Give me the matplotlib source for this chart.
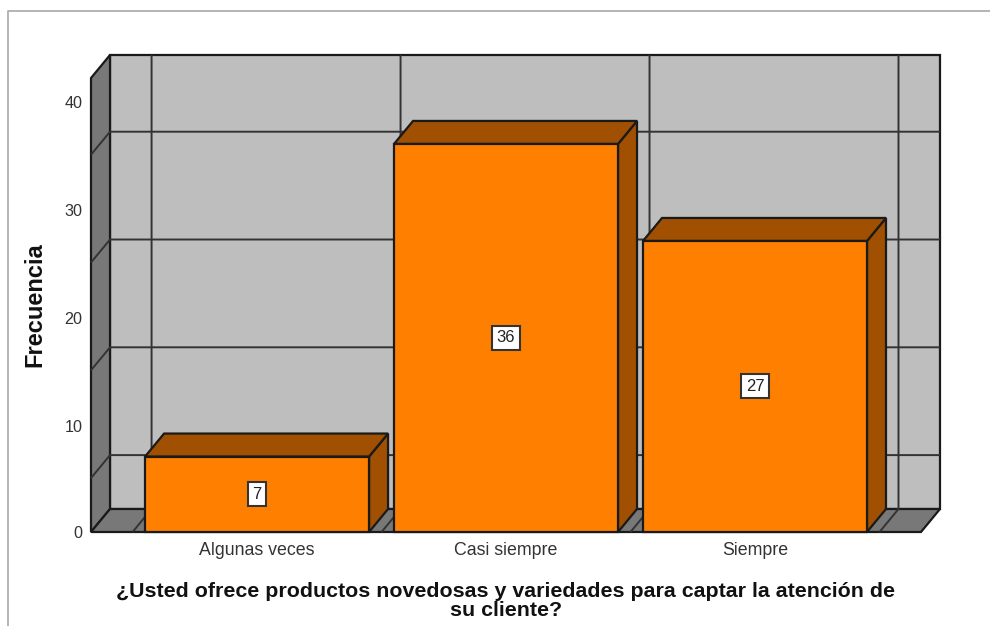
import matplotlib
matplotlib.use('Agg')
import matplotlib.pyplot as plt
from matplotlib.patches import Polygon
from matplotlib.transforms import ScaledTranslation

categories = ['Algunas veces', 'Casi siempre', 'Siempre']
values = [7, 36, 27]
y_ticks = [0, 10, 20, 30, 40]
grid_y = [5, 15, 25, 35]
grid_x = [-0.5, 0.5, 1.5, 2.5]

x_title = '¿Usted ofrece productos novedosas y variedades para captar la atención de\nsu cliente?'
y_title = 'Frecuencia'

ORANGE = '#FF8000'
DARK_ORANGE = '#A05000'
WALL = '#BEBEBE'
SIDE = '#787878'
EDGE = '#1a1a1a'

W, H = 990, 626
plt.rcParams['font.family'] = ['Liberation Sans', 'DejaVu Sans']

fig = plt.figure(figsize=(W / 100, H / 100), dpi=100)
fig.add_artist(plt.Line2D([8 / W, 8 / W, 1], [0, 1 - 11 / H, 1 - 11 / H], color='#a8a8a8', lw=1.2))

# axes spans the whole box, front baseline to back top
left, right, top, bottom = 91, 940, 55, 532
ax = fig.add_axes([left / W, 1 - bottom / H, (right - left) / W, (bottom - top) / H])
x0, x1 = -0.667, 2.743
y1 = 44.25
ax.set_xlim(x0, x1)
ax.set_ylim(0, y1)
ax.patch.set_visible(False)
for s in ax.spines.values():
    s.set_visible(False)

# depth of the fake 3d, in data units
dx = 19 / 249
dy = 23 / 10.78
front_right = x1 - dx
front_top = y1 - dy
bar_w = 224 / 249


def poly(pts, color, lw=1.6, z=1):
    ax.add_patch(Polygon(pts, closed=True, facecolor=color, edgecolor=EDGE, lw=lw,
                         zorder=z, clip_on=False, joinstyle='miter'))


def line(xs, ys, z=2, color='#333333', lw=1.4):
    ax.plot(xs, ys, color=color, lw=lw, zorder=z, clip_on=False, solid_capstyle='butt')


# walls and floor
poly([(x0 + dx, dy), (x1, dy), (x1, y1), (x0 + dx, y1)], WALL)
poly([(x0, 0), (x0 + dx, dy), (x0 + dx, y1), (x0, front_top)], SIDE)
poly([(x0, 0), (front_right, 0), (x1, dy), (x0 + dx, dy)], SIDE)

for g in grid_y:
    line([x0, x0 + dx, x1], [g, g + dy, g + dy])
for g in grid_x:
    line([g, g + dx, g + dx], [0, dy, y1])

# bars
for i, v in enumerate(values):
    l = i - bar_w / 2
    r = i + bar_w / 2
    poly([(r, 0), (r + dx, dy), (r + dx, v + dy), (r, v)], DARK_ORANGE, z=3)
    poly([(l, v), (l + dx, v + dy), (r + dx, v + dy), (r, v)], DARK_ORANGE, z=3)
    poly([(l, 0), (r, 0), (r, v), (l, v)], ORANGE, z=4)
    ax.text(i, v / 2, str(v), ha='center', va='center', fontsize=12, color='#222222', zorder=5,
            bbox=dict(boxstyle='square,pad=0.27', facecolor='white', edgecolor='#333333', lw=1.5))

ax.set_xticks(range(len(categories)))
ax.set_xticklabels(categories, fontsize=12.8, color='#333333')
ax.set_yticks(y_ticks)
ax.set_yticklabels([str(t) for t in y_ticks], fontsize=11.6, color='#333333')
ax.tick_params(axis='both', length=0)
ax.tick_params(axis='x', pad=7)
ax.tick_params(axis='y', pad=6)
for lab in ax.get_yticklabels()[1:]:
    lab.set_transform(lab.get_transform() + ScaledTranslation(0, -1.5 / 100, fig.dpi_scale_trans))

fig.text(506 / W, 1 - 601 / H, x_title, ha='center', va='center', fontsize=15.4, fontweight='bold',
         color='#111111', linespacing=1.02)
fig.text(35 / W, 1 - 305 / H, y_title, ha='center', va='center', rotation=90, fontsize=17,
         fontweight='bold', color='#111111')

fig.savefig('out.png', dpi=100)
